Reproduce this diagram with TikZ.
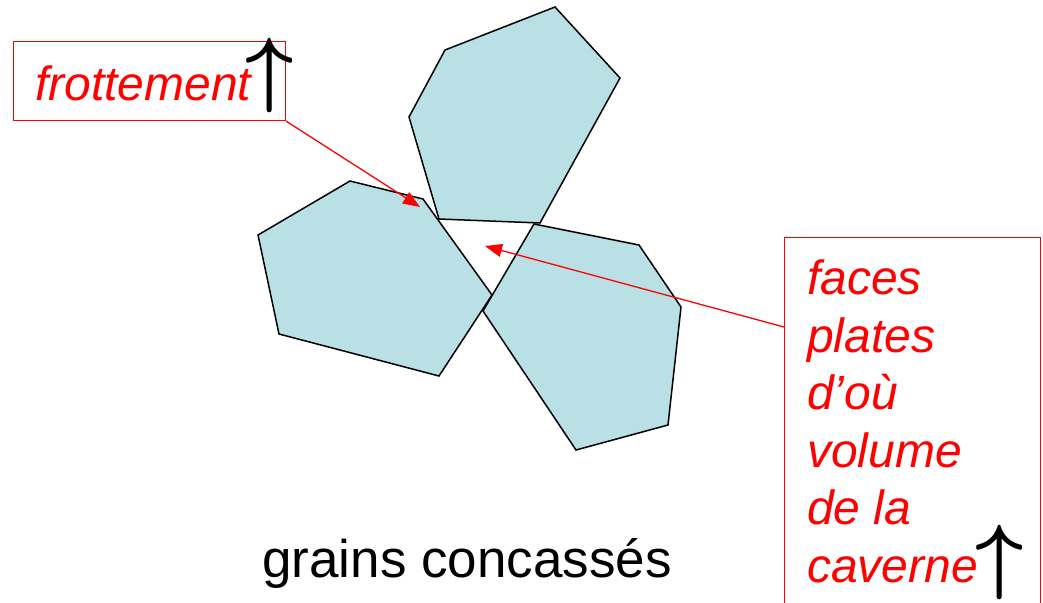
\documentclass[tikz,border=0pt]{standalone}
\usepackage{fontspec}
\setmainfont{Liberation Sans}
\usetikzlibrary{arrows.meta}
\definecolor{grain}{RGB}{185,224,228}
\tikzset{
  grainface/.style={fill=grain,draw=black,line width=1.5pt,line join=miter},
  redbox/.style={draw=red,line width=1.2pt,inner sep=0pt},
  redtext/.style={text=red,font=\fontsize{48}{57.5}\selectfont\itshape,inner sep=0pt},
  pointer/.style={draw=red,line width=1.3pt,-{Triangle[length=17pt,width=13pt]}},
  upmark/.style={inner sep=0pt}
}
\newcommand{\upsign}{\scalebox{8.4}{\boldmath$\uparrow$}}
\begin{document}
\begin{tikzpicture}[x=1pt,y=-1pt]
  \useasboundingbox (0,0) rectangle (1043,602);
  \clip (0,0) rectangle (1043,602);

  % the three crushed grains
  \draw[grainface] (555,7)--(620,78)--(540,223)--(439,219)--(409,117)--(445,50)--cycle;
  \draw[grainface] (350,181)--(423,199)--(492,295)--(439,376)--(279,334)--(258,235)--cycle;
  \draw[grainface] (534,224)--(639,245)--(681,307)--(668,425)--(576,450)--(483,311)--cycle;

  % boxes and their texts
  \node[redbox,anchor=north west,minimum width=272pt,minimum height=79pt] (frot) at (13,41) {};
  \node[redtext,anchor=base west] (frotlbl) at (35,100) {frottement};
  \node[upmark] (frotup) at (270,75.5) {\upsign};

  \node[redbox,anchor=north west,minimum width=256pt,minimum height=390pt] (cav) at (784,237) {};
  \node[redtext,anchor=base west,align=left] (cavlbl) at (807,582) {faces\\plates\\d’où\\volume\\de la\\caverne};
  \node[upmark] (cavup) at (1000,562.5) {\upsign};

  \node[font=\fontsize{53}{60}\selectfont,anchor=base west,inner sep=0pt] (grains) at (262,577) {grains concassés};

  % pointers
  \coordinate (contact) at (420,207);
  \coordinate (cavity) at (485,246);
  \coordinate (cavfoot) at (784,327);
  \draw[pointer] (frot.south east) -- (contact);
  \draw[pointer] (cavfoot) -- (cavity);
\end{tikzpicture}
\end{document}
